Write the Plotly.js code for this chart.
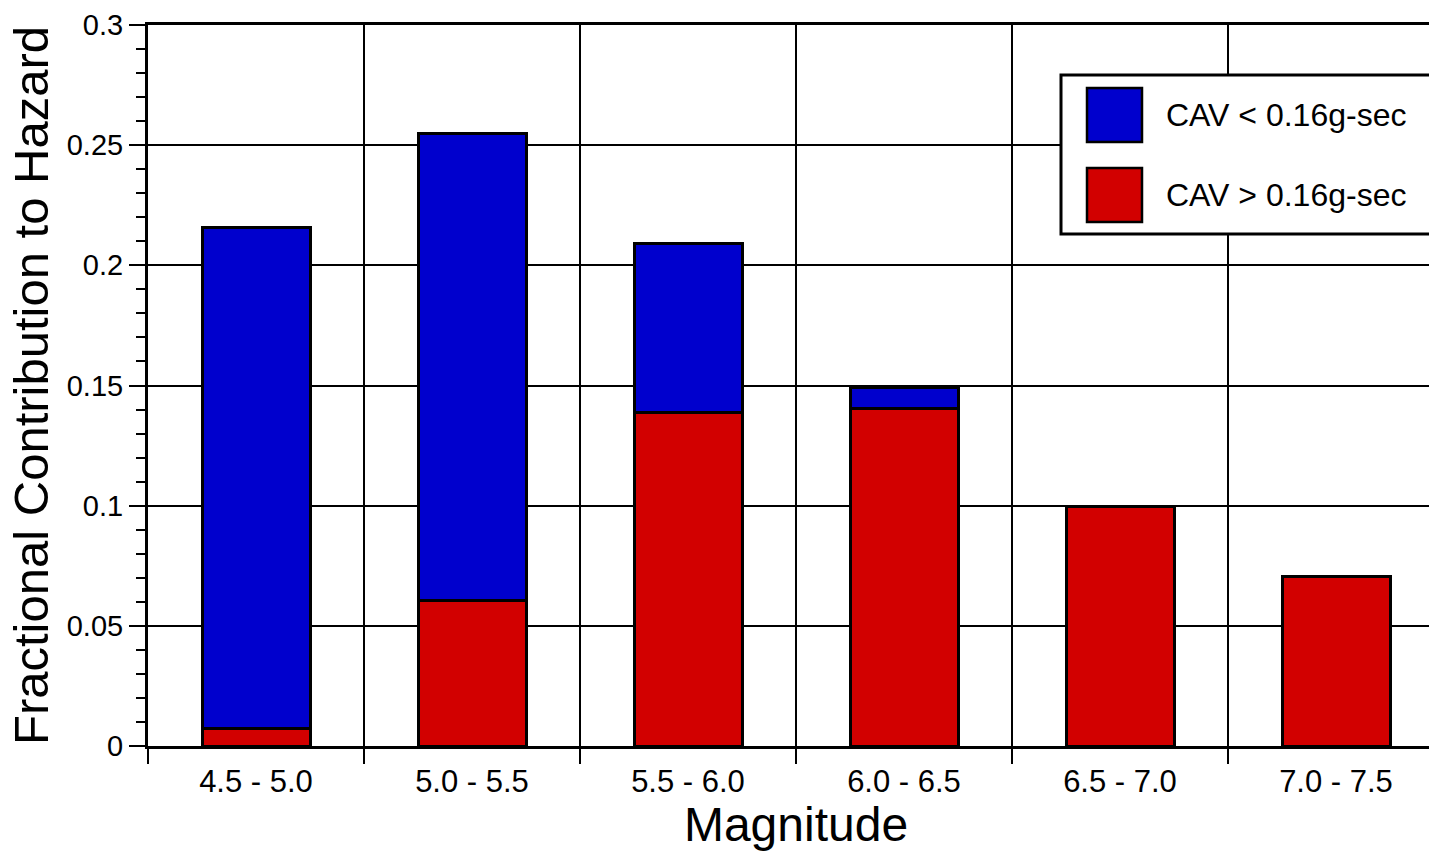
<!DOCTYPE html>
<html><head><meta charset="utf-8">
<script src="https://cdn.plot.ly/plotly-3.0.1.min.js"></script>
<style>html,body{margin:0;padding:0;overflow:hidden;background:#fff}#chart{width:1460px;height:851px}</style>
</head><body><div id="chart"></div><script>
// Data
const categories = ['4.5 - 5.0', '5.0 - 5.5', '5.5 - 6.0', '6.0 - 6.5', '6.5 - 7.0', '7.0 - 7.5'];
const cavBelow = [0.2085, 0.1945, 0.0706, 0.0087, 0, 0];   // CAV < 0.16g-sec (blue, stacked on top)
const cavAbove = [0.0074, 0.0604, 0.1386, 0.1405, 0.0995, 0.0707]; // CAV > 0.16g-sec (red, bottom)
const seriesNames = ['CAV < 0.16g-sec', 'CAV > 0.16g-sec'];
const yTickVals = [0, 0.05, 0.1, 0.15, 0.2, 0.25, 0.3];
const yTickText = ['0', '0.05', '0.1', '0.15', '0.2', '0.25', '0.3'];
const xTitle = 'Magnitude';
const yTitle = 'Fractional Contribution to Hazard';

const BLUE = '#0000CD', RED = '#D20000';
const FONT = 'Liberation Sans, Arial, Helvetica, sans-serif';

// plot area geometry (pixels)
const L = 148, T = 25, W = 1296, H = 721;
const px = v => (v - L) / W;
const py = v => (T + H - v) / H;

const traces = [
  {type: 'bar', x: categories, y: cavAbove, name: seriesNames[1], width: 0.5,
   marker: {color: RED, line: {color: '#000', width: 3}}, showlegend: false, hoverinfo: 'x+y+name'},
  {type: 'bar', x: categories, y: cavBelow, name: seriesNames[0], width: 0.5,
   marker: {color: BLUE, line: {color: '#000', width: 3}}, showlegend: false, hoverinfo: 'x+y+name'}
];

const shapes = [
  {type: 'rect', xref: 'paper', yref: 'paper', x0: px(1061), x1: 1.02, y0: py(234), y1: py(75),
   fillcolor: '#fff', line: {color: '#000', width: 3}, layer: 'above'},
  {type: 'rect', xref: 'paper', yref: 'paper', x0: px(1087), x1: px(1142), y0: py(142), y1: py(88),
   fillcolor: BLUE, line: {color: '#000', width: 2.5}, layer: 'above'},
  {type: 'rect', xref: 'paper', yref: 'paper', x0: px(1087), x1: px(1142), y0: py(222), y1: py(168),
   fillcolor: RED, line: {color: '#000', width: 2.5}, layer: 'above'}
];

const annotations = [
  {xref: 'paper', yref: 'paper', x: px(1164), y: py(115), xanchor: 'left', yanchor: 'middle',
   text: seriesNames[0], showarrow: false, font: {family: FONT, size: 32, color: '#000'}},
  {xref: 'paper', yref: 'paper', x: px(1164), y: py(195), xanchor: 'left', yanchor: 'middle',
   text: seriesNames[1], showarrow: false, font: {family: FONT, size: 32, color: '#000'}}
];

const layout = {
  width: 1460, height: 851,
  margin: {l: L, r: 1460 - L - W, t: T, b: 851 - T - H, pad: 0},
  paper_bgcolor: '#fff', plot_bgcolor: '#fff',
  barmode: 'stack',
  font: {family: FONT, color: '#000', size: 30},
  xaxis: {
    type: 'category', range: [-0.5, 5.5], tickson: 'boundaries',
    showgrid: true, gridcolor: '#000', gridwidth: 2,
    showline: true, linecolor: '#000', linewidth: 3, mirror: true,
    ticks: 'outside', ticklen: 15, tickwidth: 2, tickcolor: '#000',
    ticklabelstandoff: 6,
    tickfont: {family: FONT, size: 31, color: '#000'},
    title: {text: xTitle, font: {family: FONT, size: 48, color: '#000'}, standoff: 20},
    automargin: false, zeroline: false, fixedrange: true
  },
  yaxis: {
    range: [0, 0.3], tickvals: yTickVals, ticktext: yTickText,
    showgrid: true, gridcolor: '#000', gridwidth: 2,
    showline: true, linecolor: '#000', linewidth: 3, mirror: true,
    ticks: 'outside', ticklen: 16, tickwidth: 2, tickcolor: '#000',
    minor: {dtick: 0.01, tick0: 0, ticks: 'outside', ticklen: 9, tickwidth: 2, tickcolor: '#000', showgrid: false},
    tickfont: {family: FONT, size: 29, color: '#000'},
    title: {text: yTitle, font: {family: FONT, size: 49, color: '#000'}, standoff: 3},
    automargin: false, zeroline: false, fixedrange: true
  },
  shapes: shapes,
  annotations: annotations,
  showlegend: false
};

Plotly.newPlot('chart', traces, layout, {displayModeBar: false, staticPlot: true});
</script></body></html>
